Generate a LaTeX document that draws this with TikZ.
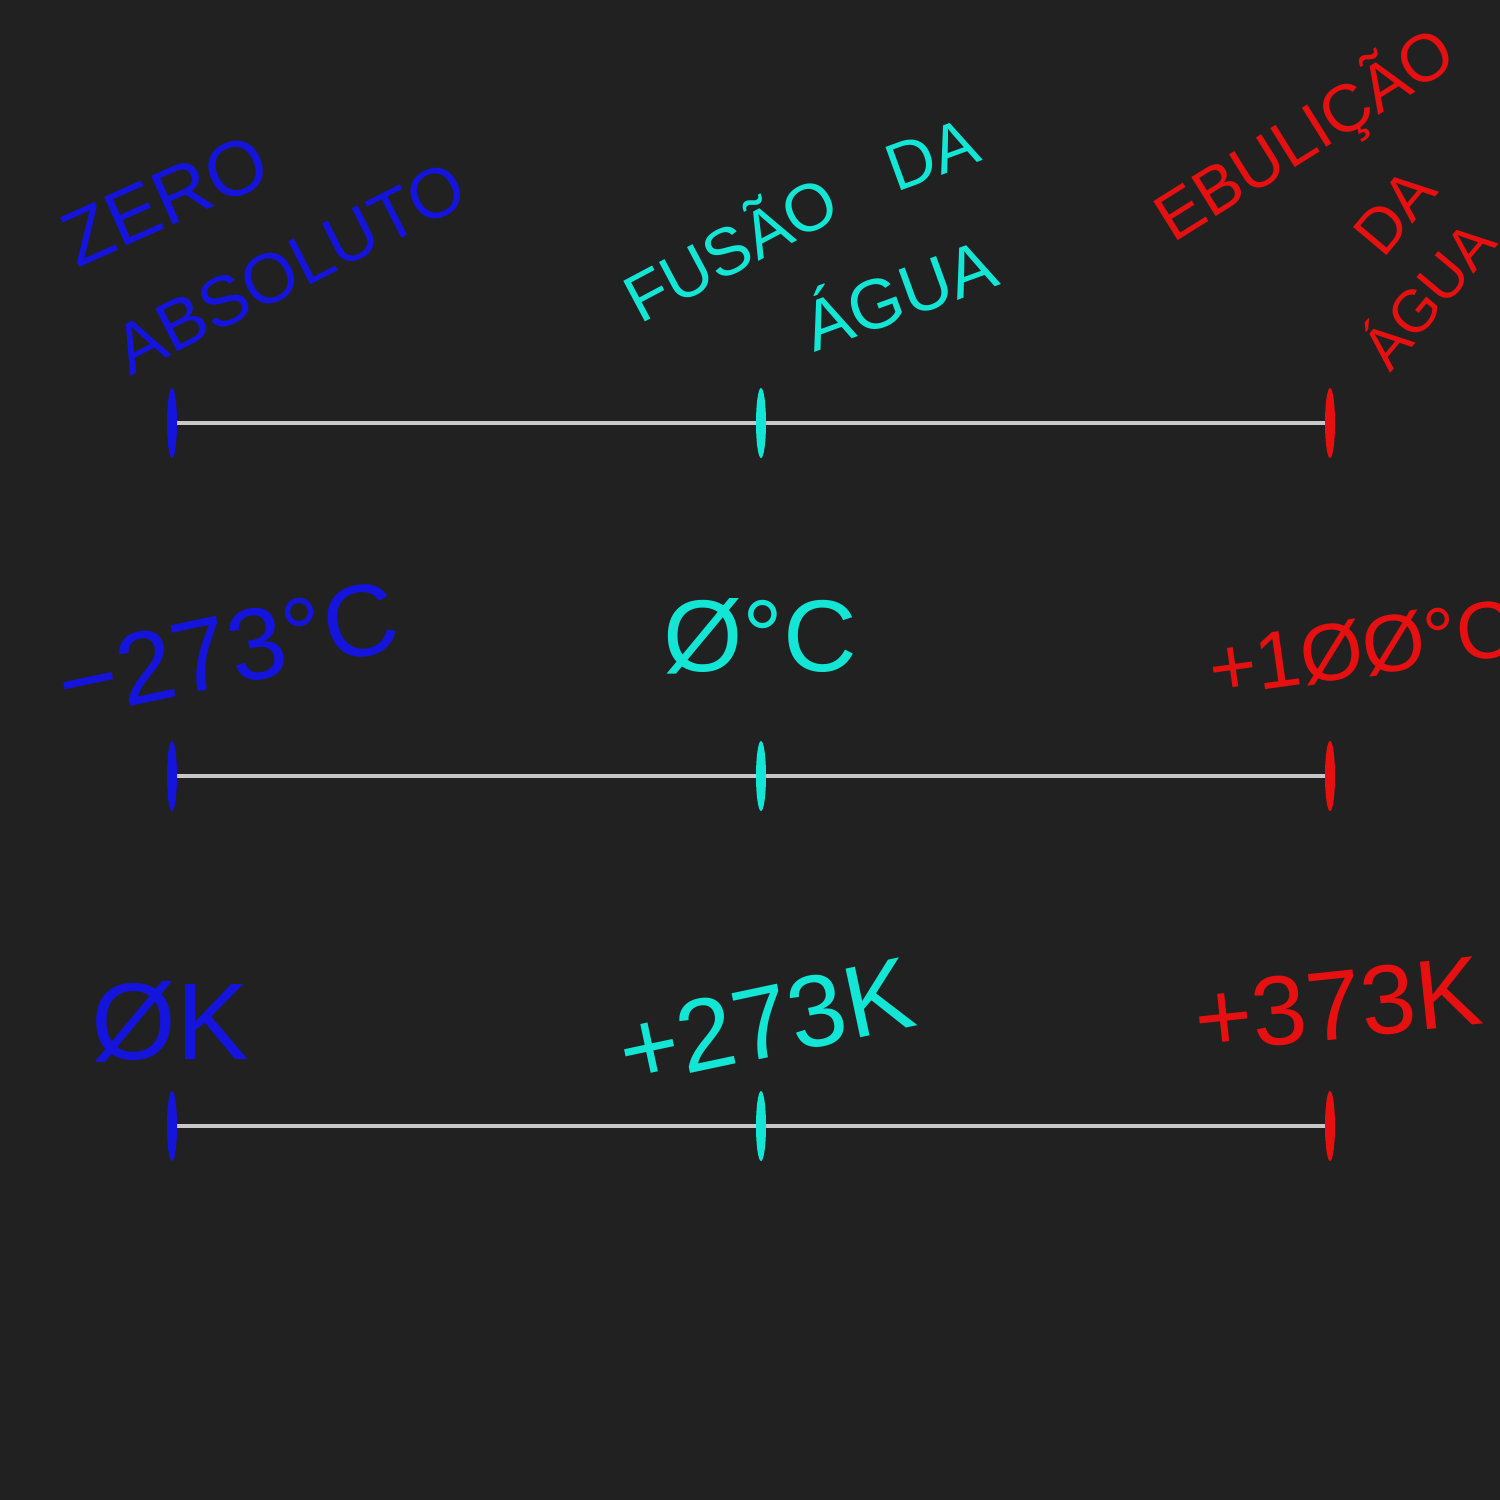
\documentclass[tikz,border=0pt]{standalone}
\usepackage{fontspec}
\setmainfont{Liberation Sans}
\usetikzlibrary{shapes.geometric,backgrounds}
\definecolor{bg}{HTML}{212121}
\definecolor{cblue}{HTML}{1414DC}
\definecolor{ccyan}{HTML}{14E6D6}
\definecolor{cred}{HTML}{E61010}
\definecolor{cline}{HTML}{C8C8C8}
\tikzset{
  tickmark/.style={ellipse, minimum width=0.1cm, minimum height=0.7cm, inner sep=0pt, fill=#1},
  scaleline/.style={cline, line width=1.4pt},
  hand/.style={text=#1, inner sep=0pt, font=\fontsize{20}{24}\selectfont},
  num/.style={text=#1, inner sep=0pt, font=\fontsize{29}{33}\selectfont},
}
\begin{document}
\begin{tikzpicture}[x=0.01cm,y=-0.01cm]
\useasboundingbox (0,0) rectangle (1500,1500);
% ticks
\foreach \r/\y in {1/423,2/776,3/1126}{
  \node[tickmark=cblue] (a\r) at (172,\y) {};
  \node[tickmark=ccyan] (b\r) at (761,\y) {};
  \node[tickmark=cred]  (c\r) at (1330,\y) {};
}
\begin{scope}[on background layer]
  \fill[bg] (0,0) rectangle (1500,1500);
  \foreach \r in {1,2,3}{
    \draw[scaleline] (a\r.center) -- (c\r.center);
  }
\end{scope}
% top labels
\node[hand=cblue, rotate=24, font=\fontsize{22}{26}\selectfont] (zero) at (165,200) {ZERO};
\node[hand=cblue, rotate=27] (abs) at (290,268) {ABSOLUTO};
\node[hand=ccyan, rotate=28, font=\fontsize{19}{23}\selectfont] (fus) at (728,245) {FUSÃO};
\node[hand=ccyan, rotate=20, font=\fontsize{19}{23}\selectfont] (da1) at (932,155) {DA};
\node[hand=ccyan, rotate=20] (agua1) at (898,290) {ÁGUA};
\node[hand=cred, rotate=32, font=\fontsize{19}{23}\selectfont] (ebu) at (1305,135) {EBULIÇÃO};
\node[hand=cred, rotate=50, font=\fontsize{18}{22}\selectfont] (da2) at (1395,212) {DA};
\node[hand=cred, rotate=50, font=\fontsize{17}{21}\selectfont] (agua2) at (1425,292) {ÁGUA};
% celsius
\node[num=cblue, rotate=12] (tc1) at (228,650) {−273°C};
\node[num=ccyan] (tc2) at (760,636) {Ø°C};
\node[num=cred, rotate=8, font=\fontsize{23}{27}\selectfont] (tc3) at (1362,648) {+1ØØ°C};
% kelvin
\node[num=cblue, font=\fontsize{31}{35}\selectfont] (tk1) at (170,1022) {ØK};
\node[num=ccyan, rotate=12] (tk2) at (766,1022) {+273K};
\node[num=cred, rotate=6, font=\fontsize{28}{32}\selectfont] (tk3) at (1338,1005) {+373K};
\end{tikzpicture}
\end{document}
